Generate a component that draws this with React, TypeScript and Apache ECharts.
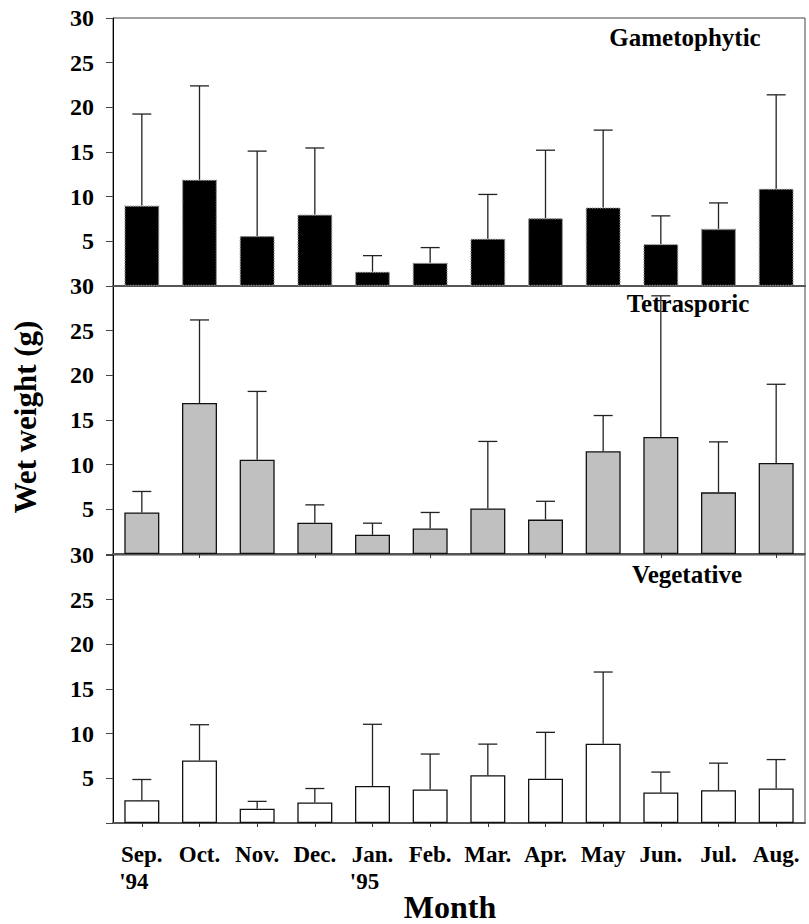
import React, { useEffect, useRef } from "react";
import * as echarts from "echarts";

const months = ["Sep.", "Oct.", "Nov.", "Dec.", "Jan.", "Feb.", "Mar.", "Apr.", "May", "Jun.", "Jul.", "Aug."];
const yearMarks = ["'94", "", "", "", "'95", "", "", "", "", "", "", ""];

const panelTitles = ["Gametophytic", "Tetrasporic", "Vegetative"];

// mean wet weight (g)
const gametophyticMean = [9.0, 11.9, 5.6, 8.0, 1.6, 2.6, 5.3, 7.6, 8.8, 4.7, 6.4, 10.9];
const gametophyticSD = [10.25, 10.5, 9.5, 7.45, 1.8, 1.7, 4.95, 7.6, 8.65, 3.15, 2.9, 10.5];

const tetrasporicMean = [4.65, 16.9, 10.55, 3.5, 2.15, 2.85, 5.1, 3.85, 11.5, 13.1, 6.9, 10.2];
const tetrasporicSD = [2.35, 9.3, 7.65, 2.0, 1.3, 1.8, 7.5, 2.05, 4.0, 15.8, 5.65, 8.8];

const vegetativeMean = [2.55, 7.0, 1.6, 2.3, 4.15, 3.75, 5.35, 4.95, 8.87, 3.42, 3.67, 3.86];
const vegetativeSD = [2.32, 4.0, 0.82, 1.56, 6.9, 3.97, 3.48, 5.2, 8.03, 2.28, 3.03, 3.24];

const yTicks = { min: 0, max: 30, interval: 5 };

const FONT = "'Liberation Serif', 'Times New Roman', serif";

export default function App() {
  const ref = useRef<HTMLDivElement>(null);

  useEffect(() => {
    if (!ref.current) return;
    const chart = echarts.init(ref.current, undefined, { renderer: "svg" });

    const panels = [
      { mean: gametophyticMean, sd: gametophyticSD, fill: "#000000", border: "#8a8a8a", borderType: "dotted" },
      { mean: tetrasporicMean, sd: tetrasporicSD, fill: "#c0c0c0", border: "#111111", borderType: "solid" },
      { mean: vegetativeMean, sd: vegetativeSD, fill: "#ffffff", border: "#111111", borderType: "solid" },
    ];

    const gridTops = [18, 286, 555];
    const gridH = 268;

    const grids = gridTops.map((t) => ({
      left: 113,
      right: 4,
      top: t,
      height: gridH,
      show: true,
      borderColor: "#444",
      borderWidth: 1,
      backgroundColor: "transparent",
    }));

    const xAxes = panels.map((_, i) => ({
      type: "category",
      gridIndex: i,
      data: months,
      boundaryGap: true,
      axisLine: { show: true, lineStyle: { color: "#555", width: 2 } },
      axisTick: {
        show: i > 0,
        alignWithLabel: true,
        length: 4,
        interval: i === 1 ? (idx: number) => idx % 2 === 1 : 0,
        lineStyle: { color: "#333", width: 1 },
      },
      axisLabel: {
        show: i === 2,
        interval: 0,
        margin: 18,
        color: "#000",
        fontFamily: FONT,
        fontWeight: "bold",
        fontSize: 23,
        lineHeight: 27,
        formatter: (v: string, idx: number) =>
          yearMarks[idx] ? `{m|${v}}\n{y|${yearMarks[idx]}}` : `{m|${v}}`,
        rich: {
          m: { fontFamily: FONT, fontWeight: "bold", fontSize: 23, color: "#000", lineHeight: 27 },
          y: { fontFamily: FONT, fontWeight: "bold", fontSize: 23, color: "#000", lineHeight: 27, padding: [0, 16, 0, 0] },
        },
      },
      splitLine: { show: false },
    }));

    const yAxes = panels.map((_, i) => ({
      type: "value",
      gridIndex: i,
      min: yTicks.min,
      max: yTicks.max,
      interval: yTicks.interval,
      axisLine: { show: true, lineStyle: { color: "#000", width: 1 } },
      axisTick: { show: true, inside: false, length: 7, lineStyle: { color: "#444", width: 1 } },
      axisLabel: {
        margin: 19,
        color: "#000",
        fontFamily: FONT,
        fontWeight: "bold",
        fontSize: 24,
        formatter: (v: number) => (v === 0 ? "" : String(v)),
      },
      splitLine: { show: false },
    }));

    const series: any[] = [];
    panels.forEach((p, i) => {
      series.push({
        type: "bar",
        xAxisIndex: i,
        yAxisIndex: i,
        data: p.mean,
        barWidth: 35,
        itemStyle: { color: p.fill, borderColor: p.border, borderWidth: 1.3, borderType: p.borderType },
        z: 2,
      });
      series.push({
        type: "custom",
        xAxisIndex: i,
        yAxisIndex: i,
        z: 3,
        encode: { x: 0, y: [1, 2] },
        data: p.mean.map((m, k) => [k, m, m + p.sd[k]]),
        renderItem: (params: any, api: any) => {
          const x = api.value(0);
          const b = api.coord([x, api.value(1)]);
          const t = api.coord([x, api.value(2)]);
          const hw = 9.5;
          const st = { stroke: "#222", lineWidth: 1.3 };
          return {
            type: "group",
            children: [
              { type: "line", shape: { x1: b[0], y1: b[1], x2: t[0], y2: t[1] }, style: st },
              { type: "line", shape: { x1: t[0] - hw, y1: t[1], x2: t[0] + hw, y2: t[1] }, style: st },
            ],
          };
        },
      });
    });

    const titlePos = [
      [685, 37],
      [688, 303],
      [687, 574],
    ];

    const graphic: any[] = panelTitles.map((txt, i) => ({
      type: "text",
      x: titlePos[i][0],
      y: titlePos[i][1],
      z: 1,
      style: {
        text: txt,
        fontFamily: FONT,
        fontWeight: "bold",
        fontSize: 25,
        fill: "#000",
        align: "center",
        verticalAlign: "middle",
      },
    }));
    graphic.push({
      type: "text",
      x: 25,
      y: 417,
      rotation: Math.PI / 2,
      style: {
        text: "Wet weight (g)",
        fontFamily: FONT,
        fontWeight: "bold",
        fontSize: 31,
        fill: "#000",
        align: "center",
        verticalAlign: "middle",
      },
    });
    graphic.push({
      type: "text",
      x: 450,
      y: 907,
      style: {
        text: "Month",
        fontFamily: FONT,
        fontWeight: "bold",
        fontSize: 32,
        fill: "#000",
        align: "center",
        verticalAlign: "middle",
      },
    });

    chart.setOption({
      animation: false,
      backgroundColor: "#fff",
      grid: grids,
      xAxis: xAxes,
      yAxis: yAxes,
      series,
      graphic,
    });

    return () => chart.dispose();
  }, []);

  return (
    <div
      ref={ref}
      style={{ position: "fixed", left: 0, top: 0, width: 809, height: 924 }}
    />
  );
}
